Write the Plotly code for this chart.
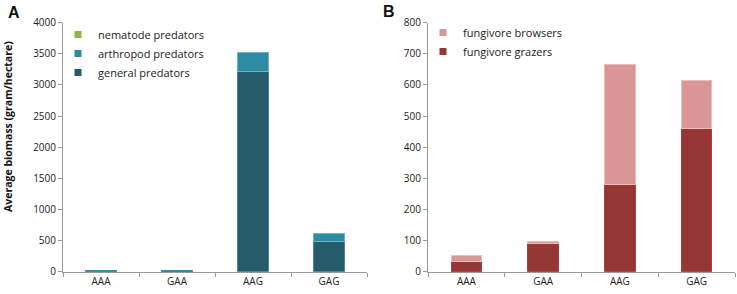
import plotly.graph_objects as go

categories = ["AAA", "GAA", "AAG", "GAG"]

# Panel A: predators (gram/hectare)
general_predators = [25, 15, 3220, 490]
arthropod_predators = [3, 3, 300, 125]
nematode_predators = [0, 0, 0, 0]

# Panel B: fungivores
fungivore_grazers = [32, 90, 280, 461]
fungivore_browsers = [20, 6, 387, 152]

yticks_A = [0, 500, 1000, 1500, 2000, 2500, 3000, 3500, 4000]
yticks_B = [0, 100, 200, 300, 400, 500, 600, 700, 800]

C_GEN = "#255B6B"
C_ART = "#2F8AA3"
C_NEM = "#8DB645"
C_GRZ = "#953735"
C_BRW = "#D99694"

W, H = 737, 294
FONT = "Open Sans"

def px_x(p):
    return p / W

def px_y(p):
    return (H - p) / H

fig = go.Figure()

def add_bar(vals, color, linecol, lw, xa, ya):
    fig.add_trace(go.Bar(x=categories, y=vals, marker=dict(color=color, line=dict(color=linecol, width=lw)),
                         width=0.4, showlegend=False, xaxis=xa, yaxis=ya, hoverinfo="skip"))

add_bar(general_predators, C_GEN, "#4F8493", 1, "x", "y")
add_bar(arthropod_predators, C_ART, "#6AB4C9", [0, 0, 1, 1], "x", "y")
add_bar(nematode_predators, C_NEM, "#C6DD9E", 0, "x", "y")
add_bar(fungivore_grazers, C_GRZ, "#A8403E", 1, "x2", "y2")
add_bar(fungivore_browsers, C_BRW, "#EDBDBC", 1, "x2", "y2")

def add_leg(name, color, legend, group):
    fig.add_trace(go.Scatter(x=[None], y=[None], mode="markers", name=name,
                             marker=dict(symbol="square", size=7, color=color),
                             legend=legend, legendgroup=group, xaxis="x", yaxis="y"))

add_leg("nematode predators", C_NEM, "legend", "a1")
add_leg("arthropod predators", C_ART, "legend", "a2")
add_leg("general predators", C_GEN, "legend", "a3")
add_leg("fungivore browsers", C_BRW, "legend2", "b1")
add_leg("fungivore grazers", C_GRZ, "legend2", "b2")

ydom = [px_y(271.7), px_y(22.7)]
axis_common = dict(showline=True, linecolor="#9A9A9A", linewidth=1, ticks="outside",
                   tickcolor="#9A9A9A", ticklen=4, showgrid=False, zeroline=False,
                   automargin=False,
                   tickfont=dict(family=FONT, size=10, color="#222222"))

fig.update_layout(
    width=W, height=H, barmode="stack", bargap=0.6,
    margin=dict(l=0, r=0, t=0, b=0, autoexpand=False),
    paper_bgcolor="white", plot_bgcolor="white",
    font=dict(family=FONT, size=11, color="#222222"),
    xaxis=dict(domain=[px_x(63), px_x(367)], type="category", tickson="boundaries",
               anchor="y", **axis_common),
    yaxis=dict(domain=ydom, range=[0, 4000], tickvals=yticks_A, anchor="x", **axis_common),
    xaxis2=dict(domain=[px_x(428), px_x(735)], type="category", tickson="boundaries",
                anchor="y2", **axis_common),
    yaxis2=dict(domain=ydom, range=[0, 800], tickvals=yticks_B, anchor="x2", **axis_common),
    legend=dict(x=px_x(58), y=px_y(20), xanchor="left", yanchor="top", bgcolor="rgba(0,0,0,0)",
                font=dict(family=FONT, size=11, color="#222222"), tracegroupgap=3,
                traceorder="normal"),
    legend2=dict(x=px_x(423), y=px_y(18), xanchor="left", yanchor="top", bgcolor="rgba(0,0,0,0)",
                 font=dict(family=FONT, size=11, color="#222222"), tracegroupgap=3,
                 traceorder="normal"),
    annotations=[
        dict(text="<b>Average biomass (gram/hectare)</b>", x=px_x(8), y=px_y(127), xref="paper",
             yref="paper", textangle=-90, showarrow=False, xanchor="center", yanchor="middle",
             font=dict(family=FONT, size=10.5, color="#111111")),
        dict(text="<b>A</b>", x=px_x(6), y=px_y(2), xref="paper", yref="paper", showarrow=False,
             xanchor="left", yanchor="top", font=dict(family="Liberation Sans", size=16, color="#111111")),
        dict(text="<b>B</b>", x=px_x(381), y=px_y(1), xref="paper", yref="paper", showarrow=False,
             xanchor="left", yanchor="top", font=dict(family="Liberation Sans", size=16, color="#111111")),
    ],
)

fig.write_html("out.html", config={"displayModeBar": False},
               post_script="document.body.style.margin='0';")
